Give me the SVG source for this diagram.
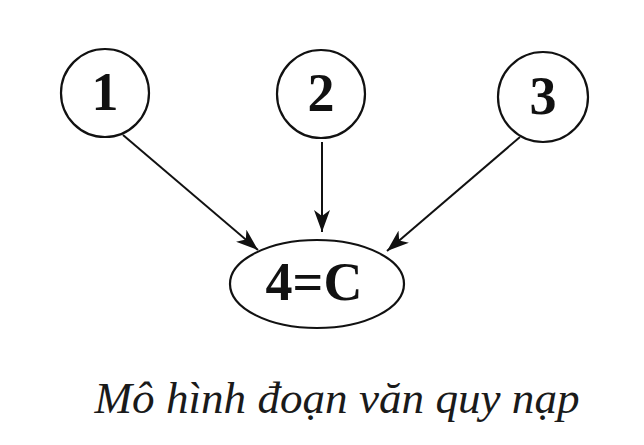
<svg xmlns="http://www.w3.org/2000/svg" width="644" height="445" viewBox="0 0 644 445">
<style>
.n{fill:#fff;stroke:#111;stroke-width:2.2}
.t{font-family:"Liberation Serif",serif;font-weight:bold;font-size:54px;fill:#111;text-anchor:middle}
.e{stroke:#111;stroke-width:2;fill:none}
.cap{font-family:"Liberation Serif",serif;font-style:italic;font-size:44px;fill:#1a1a1a;text-anchor:middle}
</style>
<defs>
<marker id="ah" viewBox="0 0 22 16" refX="22" refY="8" markerWidth="22" markerHeight="16" markerUnits="userSpaceOnUse" orient="auto">
<path d="M0,0 L22,8 L0,16 L6,8 Z" fill="#111"/>
</marker>
</defs>
<rect width="644" height="445" fill="#fff"/>
<g id="connectors">
<line class="e" x1="123" y1="135" x2="258" y2="250" marker-end="url(#ah)"/>
<line class="e" x1="322" y1="142" x2="322" y2="232" marker-end="url(#ah)"/>
<line class="e" x1="520" y1="137" x2="387" y2="251" marker-end="url(#ah)"/>
</g>
<g id="node1">
<circle class="n" cx="105" cy="93" r="44"/>
<text class="t" x="105" y="110">1</text>
</g>
<g id="node2">
<circle class="n" cx="321" cy="94" r="44"/>
<text class="t" x="321" y="111">2</text>
</g>
<g id="node3">
<circle class="n" cx="543" cy="97" r="45"/>
<text class="t" x="543" y="114">3</text>
</g>
<g id="node4">
<ellipse class="n" cx="317" cy="284" rx="87" ry="44"/>
<text class="t" x="314" y="300">4=C</text>
</g>
<text class="cap" x="337" y="413" textLength="485" lengthAdjust="spacingAndGlyphs">Mô hình đoạn văn quy nạp</text>
</svg>
